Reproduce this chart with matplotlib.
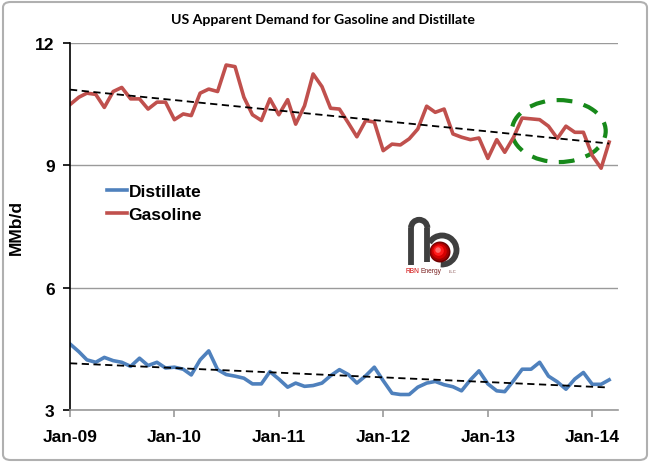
import numpy as np
import matplotlib.pyplot as plt
import matplotlib.dates as mdates
import pandas as pd
from matplotlib.patches import Ellipse, Circle, Arc, FancyBboxPatch

# monthly apparent demand, MMb/d, Jan-09 .. Mar-14
months = pd.date_range('2009-01-01', periods=63, freq='MS')
gasoline = [10.49, 10.67, 10.77, 10.74, 10.42, 10.81, 10.91, 10.63, 10.63, 10.38, 10.55, 10.55,
            10.12, 10.26, 10.22, 10.77, 10.87, 10.81, 11.46, 11.42, 10.67, 10.24, 10.10, 10.63,
            10.24, 10.61, 10.01, 10.46, 11.24, 10.93, 10.40, 10.38, 10.04, 9.70, 10.10, 10.06,
            9.36, 9.52, 9.50, 9.65, 9.89, 10.45, 10.30, 10.38, 9.77, 9.69, 9.63, 9.67,
            9.17, 9.63, 9.32, 9.69, 10.16, 10.14, 10.12, 9.96, 9.66, 9.96, 9.81, 9.81,
            9.24, 8.93, 9.57]
distillate = [4.62, 4.43, 4.23, 4.17, 4.29, 4.21, 4.17, 4.07, 4.27, 4.09, 4.17, 4.03,
              4.05, 4.00, 3.86, 4.23, 4.45, 3.99, 3.87, 3.83, 3.78, 3.64, 3.64, 3.94,
              3.76, 3.56, 3.66, 3.58, 3.60, 3.66, 3.84, 3.99, 3.87, 3.66, 3.84, 4.05,
              3.72, 3.41, 3.38, 3.38, 3.56, 3.66, 3.70, 3.62, 3.57, 3.47, 3.74, 3.96,
              3.64, 3.47, 3.45, 3.72, 4.00, 4.00, 4.17, 3.83, 3.69, 3.51, 3.76, 3.92,
              3.63, 3.63, 3.74]
yticks = [3, 6, 9, 12]

# highlighted period (ellipse), centre month and level
hl_center = ('2013-09-06', 9.84)
hl_width_days = 328
hl_height = 1.52

red = '#C0504D'
blue = '#4F81BD'

plt.rcParams['font.family'] = ['Liberation Sans', 'DejaVu Sans']

fig = plt.figure(figsize=(6.5, 4.64), dpi=100)
ax = fig.add_axes([70/650, 1 - 411/464, 548/650, 367/464])

ax.plot(months, distillate, color=blue, lw=2.6, label='Distillate', solid_joinstyle='round')
ax.plot(months, gasoline, color=red, lw=2.6, label='Gasoline', solid_joinstyle='round')

# linear trend lines
t = np.arange(len(months))
for series in (gasoline, distillate):
    k, b = np.polyfit(t, series, 1)
    ax.plot(months, k * t + b, color='black', lw=1.3, ls=(0, (4, 2.5)))

xc = mdates.date2num(pd.Timestamp(hl_center[0]))
ax.add_patch(Ellipse((xc, hl_center[1]), hl_width_days, hl_height, fill=False,
                     edgecolor='#17891A', lw=3.0, ls=(0, (3.8, 2.8))))

ax.set_ylim(3, 12)
ax.set_yticks(yticks)
ax.set_xlim(pd.Timestamp('2009-01-01'), pd.Timestamp('2014-04-01'))
ax.xaxis.set_major_locator(mdates.YearLocator())
ax.xaxis.set_major_formatter(mdates.DateFormatter('%b-%y'))
ax.grid(axis='y', color='#9a9a9a', lw=1.0)
ax.set_axisbelow(True)
for s in ('top', 'right'):
    ax.spines[s].set_visible(False)
ax.spines['left'].set_color('black')
ax.spines['left'].set_linewidth(1.2)
ax.spines['bottom'].set_color('#9a9a9a')
ax.spines['bottom'].set_linewidth(1.2)
ax.tick_params(axis='y', length=5, width=1.2, color='black', labelsize=12.5, pad=6)
ax.tick_params(axis='x', length=5, width=1.2, color='#9a9a9a', labelsize=12.5, pad=9)
for lab in ax.get_xticklabels() + ax.get_yticklabels():
    lab.set_fontweight('bold')
ax.set_ylabel('MMb/d', fontsize=12.5, fontweight='bold', labelpad=8)

leg = ax.legend(loc='upper left', bbox_to_anchor=(0.0675, 0.615), frameon=False,
                prop={'size': 12.5, 'weight': 'bold'}, handlelength=1.15,
                handletextpad=0.1, labelspacing=0.44, borderaxespad=0, borderpad=0)

fig.text(0.497, 0.957, 'US Apparent Demand for Gasoline and Distillate',
         ha='center', va='center', fontsize=10.2, fontweight='bold', family='Lato')

# logo
lx = fig.add_axes([405/650, 1 - 280/464, 60/650, 67/464])
lx.set_xlim(0, 60)
lx.set_ylim(0, 67)
lx.axis('off')
gray = '#3f3f3f'
lx.plot([6, 6], [14, 51], color=gray, lw=4.2, solid_capstyle='butt')
lx.add_patch(Arc((14.2, 51), 16.4, 16.4, theta1=0, theta2=180, color=gray, lw=4.2))
lx.plot([22.4, 22.4], [17, 51], color=gray, lw=4.2, solid_capstyle='butt')
lx.add_patch(Arc((37, 29), 29, 29, theta1=-95, theta2=150, color=gray, lw=4.2))
for r, c in [(10.5, '#6e0000'), (9.2, '#a00000'), (7.5, '#d40000'), (5.2, '#ff1a1a'), (2.8, '#ff6a6a')]:
    off = (10.5 - r) * 0.25
    lx.add_patch(Circle((35 - off, 27 + off), r, color=c, lw=0))
lx.text(1, 8.5, 'RBN', color='#d00000', fontsize=4.8, va='center', ha='left')
lx.text(15.5, 8.5, 'Energy', color='#7a2020', fontsize=4.8, va='center', ha='left')
lx.text(44, 8, 'LLC', color='#7a4040', fontsize=3, va='center', ha='left')

fig.patches.append(FancyBboxPatch((3/650, 3/464), 644/650, 458/464,
                                  boxstyle='round,pad=0,rounding_size=0.012',
                                  transform=fig.transFigure, fill=False,
                                  edgecolor='#b0b0b0', lw=1.5))

fig.savefig('out.png', dpi=100)
